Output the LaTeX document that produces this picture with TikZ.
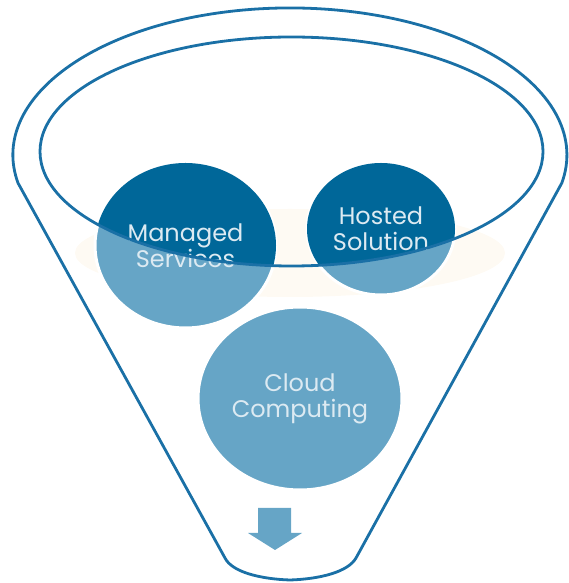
\documentclass[tikz,border=0pt]{standalone}
\usepackage{fontspec}
\setmainfont{Poppins}
\usetikzlibrary{shapes.geometric}
\definecolor{rimblue}{RGB}{26,112,166}
\definecolor{darkblue}{RGB}{0,103,153}
\definecolor{lightblue}{RGB}{102,165,198}
\definecolor{paleblue}{RGB}{220,234,242}
\definecolor{beige}{RGB}{254,250,243}
\tikzset{
  rim/.style={draw=rimblue, line width=2.8pt},
  bubble/.style={ellipse, fill=lightblue, draw=white, line width=3pt, inner sep=0pt},
  bubbletext/.style={text=paleblue, align=center, font=\fontsize{24}{26}\selectfont}
}
\begin{document}
\begin{tikzpicture}[x=1pt,y=1pt]
  \useasboundingbox (0,0) rectangle (569,583);
  % faint shadow behind the top bubbles
  \fill[beige] (290,330) ellipse [x radius=215, y radius=44];
  % bubbles
  \node[bubble, minimum width=181pt, minimum height=165pt] (managed) at (185.5,337.5) {};
  \node[bubble, minimum width=148pt, minimum height=132pt] (hosted) at (381,354) {};
  \node[bubble, minimum width=204pt, minimum height=183pt] (cloud) at (300,184.5) {};
  % part of the bubbles inside the rim is darker
  \begin{scope}
    \clip (291.5,431.5) ellipse [x radius=251.5, y radius=114.5];
    \fill[darkblue] (managed.center) ellipse [x radius=90.5, y radius=82.5];
    \fill[darkblue] (hosted.center) ellipse [x radius=74, y radius=66];
  \end{scope}
  \node[bubbletext] at (managed) {Managed\\Services};
  \node[bubbletext] at (hosted) {Hosted\\Solution};
  \node[bubbletext] at (cloud) {Cloud\\Computing};
  % funnel
  \draw[rim] (291.5,431.5) ellipse [x radius=251.5, y radius=114.5];
  \draw[rim, line join=round] (225,25) -- (18,400)
    arc [start angle=191, end angle=-11, x radius=277, y radius=147]
    -- (356,25) .. controls (348,11) and (320,4) .. (290,3)
    .. controls (260,4) and (232,11) .. cycle;
  % down arrow
  \fill[lightblue] (258,75) -- (291,75) -- (291,50) -- (302,50) -- (275,33)
    -- (248,50) -- (258,50) -- cycle;
\end{tikzpicture}
\end{document}
